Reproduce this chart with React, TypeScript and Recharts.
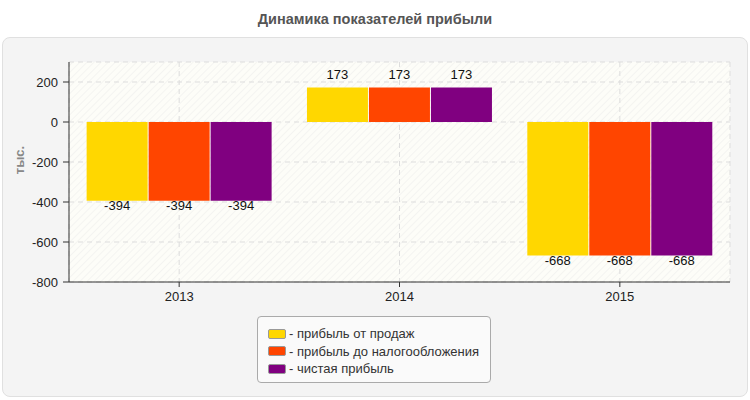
import React from 'react';
import { BarChart, Bar, XAxis, YAxis, CartesianGrid, LabelList } from 'recharts';

const years = ['2013', '2014', '2015'];
const salesProfit = [-394, 173, -668];
const preTaxProfit = [-394, 173, -668];
const netProfit = [-394, 173, -668];
const seriesKeys = ['sales', 'pretax', 'net'];
const seriesNames = ['прибыль от продаж', 'прибыль до налогообложения', 'чистая прибыль'];
const seriesColors = ['#FFD700', '#FF4500', '#800080'];
const yTicks = [-800, -600, -400, -200, 0, 200];
const yDomain = [-800, 300];
const chartTitle = 'Динамика показателей прибыли';
const yAxisTitle = 'тыс.';

const data = years.map((y, i) => ({
  year: y,
  sales: salesProfit[i],
  pretax: preTaxProfit[i],
  net: netProfit[i],
}));

const FONT = '"Liberation Sans", Arial, sans-serif';

const BarValueLabel = (props: any) => {
  const { x, y, width, height, value } = props;
  const top = Math.min(y, y + height);
  const bottom = Math.max(y, y + height);
  const cx = x + width / 2;
  const ty = value >= 0 ? top - 8 : bottom + 9.5;
  return (
    <text x={cx} y={ty} textAnchor="middle" fontSize={13} fill="#111" fontFamily={FONT}>
      {value}
    </text>
  );
};

const YTitle = (props: any) => {
  const vb = props.viewBox || {};
  const x = vb.x;
  const y = vb.y + vb.height / 2 - 12;
  return (
    <text
      x={x}
      y={y}
      transform={`rotate(-90 ${x} ${y})`}
      textAnchor="middle"
      dominantBaseline="central"
      fontSize={13}
      fontWeight="bold"
      fill="#888"
      fontFamily={FONT}
    >
      {yAxisTitle}
    </text>
  );
};

export default function App() {
  return (
    <div
      style={{
        position: 'absolute',
        left: 0,
        top: 0,
        width: 750,
        height: 400,
        background: '#fff',
        fontFamily: FONT,
        overflow: 'hidden',
      }}
    >
      <svg width={0} height={0} style={{ position: 'absolute' }}>
        <defs>
          <pattern id="hatch" patternUnits="userSpaceOnUse" width={5} height={5} patternTransform="rotate(45)">
            <rect x={0} y={0} width={5} height={5} fill="#fdfdf8" />
            <line x1={0} y1={0} x2={0} y2={5} stroke="#f2f2ef" strokeWidth={1.5} />
          </pattern>
        </defs>
      </svg>
      <div
        style={{
          position: 'absolute',
          left: 0,
          width: 750,
          textAlign: 'center',
          top: 11,
          fontSize: 14.5,
          fontWeight: 'bold',
          color: '#555',
        }}
      >
        {chartTitle}
      </div>
      <div
        style={{
          position: 'absolute',
          left: 2,
          top: 37,
          width: 744,
          height: 358,
          background: '#f4f4f4',
          border: '1px solid #e0e0e0',
          borderRadius: 8,
        }}
      />
      <div style={{ position: 'absolute', left: 0, top: 0 }}>
        <BarChart
          width={750}
          height={400}
          data={data}
          margin={{ top: 62, right: 20, bottom: 88, left: 19 }}
          barCategoryGap="8%"
          barGap={1}
        >
          <CartesianGrid
            stroke="#dddddd"
            strokeDasharray="5 4"
            fill="url(#hatch)"
            fillOpacity={1}
          />
          <XAxis
            xAxisId="top"
            orientation="top"
            dataKey="year"
            height={0}
            tick={false}
            tickLine={false}
            axisLine={{ stroke: '#dddddd' }}
          />
          <YAxis
            yAxisId="right"
            orientation="right"
            width={0}
            tick={false}
            tickLine={false}
            axisLine={{ stroke: '#dddddd' }}
            domain={yDomain}
          />
          <XAxis
            dataKey="year"
            height={30}
            tickSize={5}
            tickMargin={5}
            axisLine={{ stroke: '#333' }}
            tickLine={{ stroke: '#333' }}
            tick={{ fontSize: 13, fill: '#222', fontFamily: FONT }}
          />
          <YAxis
            width={50}
            domain={yDomain}
            ticks={yTicks}
            allowDataOverflow
            tickSize={6}
            tickMargin={5}
            axisLine={{ stroke: '#333' }}
            tickLine={{ stroke: '#333' }}
            tick={{ fontSize: 13, fill: '#222', fontFamily: FONT }}
            label={<YTitle />}
          />
          {seriesKeys.map((k, i) => (
            <Bar key={k} dataKey={k} name={seriesNames[i]} fill={seriesColors[i]} isAnimationActive={false}>
              <LabelList dataKey={k} content={<BarValueLabel />} />
            </Bar>
          ))}
        </BarChart>
      </div>
      <div
        style={{
          position: 'absolute',
          left: 257,
          top: 316,
          width: 232,
          height: 65,
          background: '#fafafa',
          border: '1px solid #aaa',
          borderRadius: 4,
          boxSizing: 'content-box',
        }}
      >
        <div style={{ paddingTop: 8, paddingLeft: 10 }}>
          {seriesNames.map((n, i) => (
            <div key={n} style={{ display: 'flex', alignItems: 'center', height: 17.5, fontSize: 13, color: '#333' }}>
              <span
                style={{
                  display: 'inline-block',
                  width: 16,
                  height: 8,
                  background: seriesColors[i],
                  border: '1px solid #999',
                  borderRadius: 2,
                  marginRight: 3,
                }}
              />
              <span>- {n}</span>
            </div>
          ))}
        </div>
      </div>
    </div>
  );
}
